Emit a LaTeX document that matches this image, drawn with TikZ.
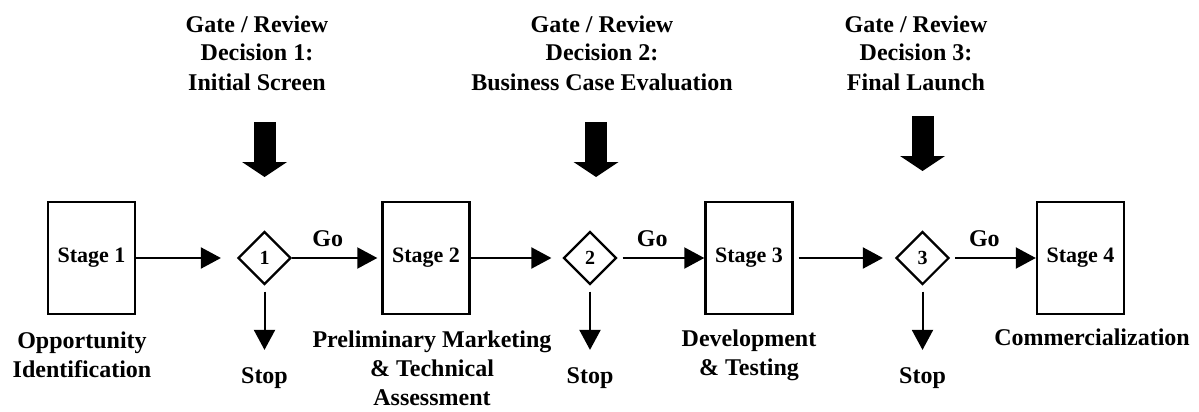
\documentclass[tikz,border=0pt]{standalone}
\usepackage{fontspec}
\setmainfont{Liberation Serif}
\usetikzlibrary{arrows.meta,shapes.geometric,positioning}

\tikzset{
  stagebox/.style={draw, line width=2.4pt, minimum width=87pt, minimum height=112pt,
    inner sep=0pt, font=\fontsize{22}{26}\selectfont\bfseries},
  gatediamond/.style={draw, diamond, aspect=1, line width=2.2pt, minimum width=53pt,
    minimum height=53pt, inner sep=0pt, font=\fontsize{20}{24}\selectfont\bfseries},
  stagetext/.style={font=\fontsize{24}{29}\selectfont\bfseries, align=center, inner sep=0pt},
  gotext/.style={font=\fontsize{24}{29}\selectfont\bfseries, inner sep=2pt, above=8pt, pos=0.4},
  flow/.style={line width=2pt, -{Triangle[length=20pt,width=21pt]}},
  bigarrow/.style={line width=22pt, -{Triangle[length=15pt,width=45pt,line width=0pt]}},
}

\begin{document}
\begin{tikzpicture}[x=1pt,y=-1pt]
  \useasboundingbox (0,0) rectangle (1199,412);

  % Stages
  \node[stagebox] (s1) at (91.5,258) {Stage 1};
  \node[stagebox] (s2) at (426,258) {Stage 2};
  \node[stagebox] (s3) at (749,258) {Stage 3};
  \node[stagebox] (s4) at (1080.5,258) {Stage 4};

  % Gates, stop exits and review arrows
  \foreach \i/\x/\ax/\ay in {1/264.5/264.5/122, 2/590/596/122, 3/922.5/922.5/116} {
    \node[gatediamond] (d\i) at (\x,258) {\i};
    \node[stagetext, anchor=base] (stop\i) at (\x,383) {Stop};
    \draw[flow, shorten <=6pt, shorten >=17pt] (d\i) -- (stop\i);
    \coordinate (rev\i) at (\ax,\ay);
    \draw[bigarrow] (rev\i) -- ++(0,55);
  }

  % Flow between stages
  \draw[flow, shorten >=16pt] (s1) -- (d1);
  \draw[flow, shorten >=4pt] (d1) -- node[gotext] {Go} (s2);
  \draw[flow, shorten >=11pt] (s2) -- (d2);
  \draw[flow, shorten <=5pt] (d2) -- node[gotext] {Go} (s3);
  \draw[flow, shorten <=5pt, shorten >=12pt] (s3) -- (d3);
  \draw[flow, shorten <=5pt] (d3) -- node[gotext] {Go} (s4);

  % Gate decisions (base = last line)
  \node[stagetext, anchor=base] (g1) at (257,90) {Gate / Review\\Decision 1:\\Initial Screen};
  \node[stagetext, anchor=base] (g2) at (602,90) {Gate / Review\\Decision 2:\\Business Case Evaluation};
  \node[stagetext, anchor=base] (g3) at (916,90) {Gate / Review\\Decision 3:\\Final Launch};

  % Stage descriptions
  \node[stagetext, anchor=base] (t1) at (82,377) {Opportunity\\Identification};
  \node[stagetext, anchor=base] (t2) at (432,405) {Preliminary Marketing\\\& Technical\\Assessment};
  \node[stagetext, anchor=base] (t3) at (749,375) {Development\\\& Testing};
  \node[stagetext, anchor=base] (t4) at (1092,345) {Commercialization};
\end{tikzpicture}
\end{document}
